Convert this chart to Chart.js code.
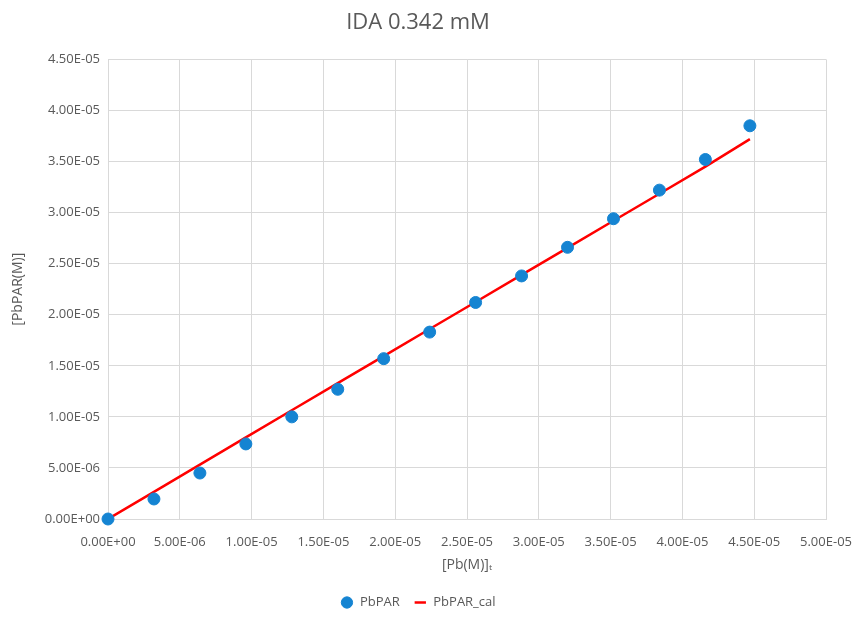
<!DOCTYPE html>
<html>
<head>
<meta charset="utf-8">
<script src="https://cdn.jsdelivr.net/npm/chart.js@4"></script>
<style>
  html, body { margin: 0; padding: 0; background: #fff; }
  #wrap { width: 857px; height: 619px; }
</style>
</head>
<body>
<div id="wrap"><canvas id="c"></canvas></div>
<script>
// total Pb (M)
const pbTotal = [0, 3.2e-6, 6.4e-6, 9.6e-6, 1.28e-5, 1.6e-5, 1.92e-5, 2.24e-5, 2.56e-5, 2.88e-5, 3.2e-5, 3.52e-5, 3.84e-5, 4.16e-5, 4.47e-5];
// measured PbPAR
const pbparMeas = [0, 1.96e-6, 4.5e-6, 7.35e-6, 1.0e-5, 1.27e-5, 1.57e-5, 1.83e-5, 2.12e-5, 2.38e-5, 2.66e-5, 2.94e-5, 3.22e-5, 3.52e-5, 3.85e-5];
// calculated PbPAR
const pbparCal = [0, 2.66e-6, 5.33e-6, 7.99e-6, 1.065e-5, 1.33e-5, 1.595e-5, 1.86e-5, 2.125e-5, 2.39e-5, 2.655e-5, 2.92e-5, 3.185e-5, 3.45e-5, 3.72e-5];

const xTickLabels = ['0.00E+00', '5.00E-06', '1.00E-05', '1.50E-05', '2.00E-05', '2.50E-05', '3.00E-05', '3.50E-05', '4.00E-05', '4.50E-05', '5.00E-05'];
const yTickLabels = ['0.00E+00', '5.00E-06', '1.00E-05', '1.50E-05', '2.00E-05', '2.50E-05', '3.00E-05', '3.50E-05', '4.00E-05', '4.50E-05'];

const grey = '#595959';
const gridCol = '#d9d9d9';
const font = '"Open Sans", "Noto Sans", sans-serif';

new Chart(document.getElementById('c'), {
  type: 'scatter',
  data: {
    datasets: [
      {
        label: 'PbPAR',
        data: pbTotal.map((x, i) => ({ x: x, y: pbparMeas[i] })),
        backgroundColor: '#1584d2',
        borderColor: '#1584d2',
        pointRadius: 6,
        pointHoverRadius: 6,
        pointStyle: 'circle',
        clip: false
      },
      {
        label: 'PbPAR_cal',
        data: pbTotal.map((x, i) => ({ x: x, y: pbparCal[i] })),
        showLine: true,
        borderColor: '#ff0000',
        backgroundColor: '#ff0000',
        borderWidth: 2.5,
        pointRadius: 0,
        pointStyle: 'line'
      }
    ]
  },
  options: {
    responsive: true,
    maintainAspectRatio: false,
    animation: false,
    layout: { padding: { left: 10, right: 31, top: 10, bottom: 0 } },
    plugins: {
      title: {
        display: true,
        text: 'IDA 0.342 mM',
        color: grey,
        font: { family: font, size: 22, weight: 'normal' },
        padding: { top: 0, bottom: 23 }
      },
      legend: {
        position: 'bottom',
        labels: {
          usePointStyle: true,
          color: grey,
          font: { family: font, size: 13 },
          boxWidth: 36,
          boxHeight: 8,
          padding: 14
        }
      },
      tooltip: { enabled: false }
    },
    scales: {
      x: {
        min: 0,
        max: 5e-5,
        ticks: {
          stepSize: 5e-6,
          color: grey,
          font: { family: font, size: 13 },
          maxRotation: 0,
          autoSkip: false,
          padding: 15,
          callback: (v, i) => xTickLabels[i]
        },
        grid: { color: gridCol, drawTicks: false },
        border: { color: gridCol },
        title: {
          display: true,
          text: '[Pb(M)]ₜ',
          color: grey,
          font: { family: font, size: 14 },
          padding: { top: 0, bottom: 9 }
        },
        afterFit: s => { s.height = 63; s.paddingLeft = 0; s.paddingRight = 0; }
      },
      y: {
        min: 0,
        max: 4.5e-5,
        ticks: {
          stepSize: 5e-6,
          color: grey,
          font: { family: font, size: 13 },
          padding: 8,
          callback: (v, i) => yTickLabels[i]
        },
        grid: { color: gridCol, drawTicks: false },
        border: { color: gridCol },
        title: {
          display: true,
          text: '[PbPAR(M)]',
          color: grey,
          font: { family: font, size: 14 },
          padding: { top: 0, bottom: 4 }
        },
        afterFit: s => { s.width = 98; }
      }
    }
  }
});
</script>
</body>
</html>
